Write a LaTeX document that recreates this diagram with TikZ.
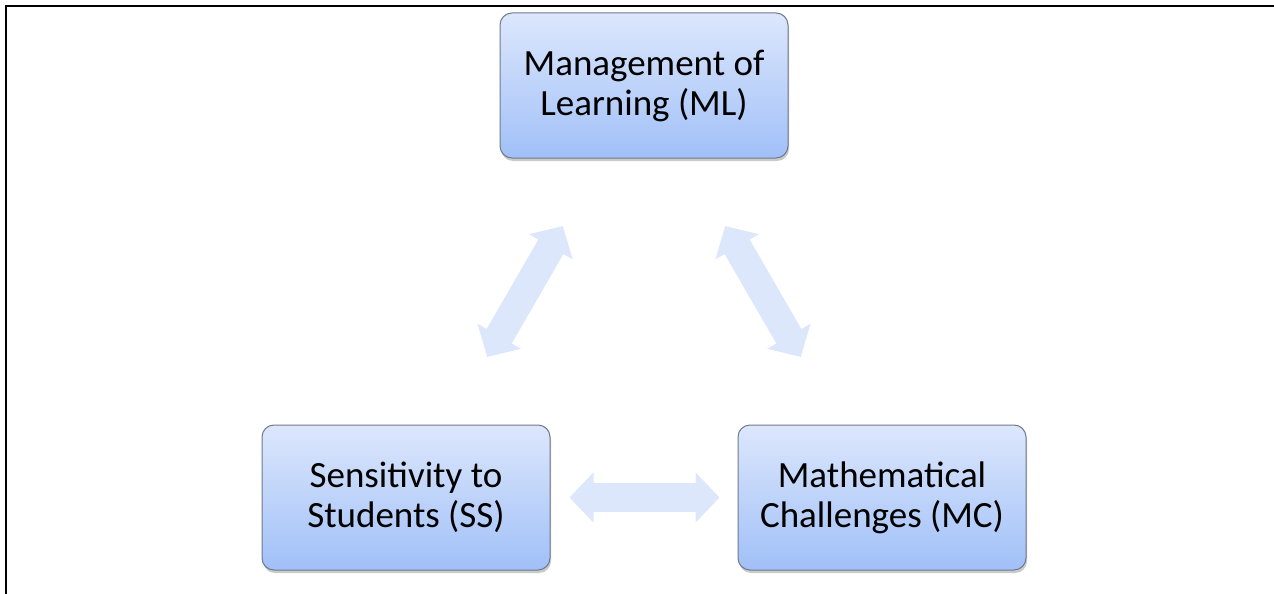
\documentclass[tikz,border=0pt]{standalone}
\usepackage{fontspec}
\setmainfont{Carlito}
\usepackage{xcolor}
\usetikzlibrary{arrows, arrows.meta}
\usetikzlibrary{calc}
\usetikzlibrary{shadows}

\definecolor{boxtop}{HTML}{DCE7FC}
\definecolor{boxbottom}{HTML}{A1C0F8}
\definecolor{boxline}{HTML}{6F7A8C}
\definecolor{arrowfill}{HTML}{DDE7FB}

\begin{document}
\begin{tikzpicture}[x=1pt, y=-1pt,
    dimbox/.style={rectangle, rounded corners=12pt, draw=boxline, line width=1pt,
      top color=boxtop, bottom color=boxbottom, minimum width=288pt, minimum height=145pt,
      align=center, font=\fontsize{37}{40}\selectfont,
      drop shadow={shadow xshift=1pt, shadow yshift=-3pt, opacity=0.35, fill=black!60}},
    linkarrow/.style={line width=29pt, draw=arrowfill,
      {Triangle[width=49pt, length=24pt]}-{Triangle[width=49pt, length=24pt]}}]
      \useasboundingbox (0,0) rectangle (1274,594);
      % frame
      \draw[line width=2.5pt] (6,594) -- (6,6) -- (1274,6);

      \node[dimbox] (ml) at (644,85.5) {Management of\\Learning (ML)};
      \node[dimbox] (ss) at (406,497.5) {Sensitivity to\\Students (SS)};
      \node[dimbox] (mc) at (882,497.5) {Mathematical\\Challenges (MC)};

      \draw[linkarrow, shorten <=78pt, shorten >=78pt] (ml) -- (ss);
      \draw[linkarrow, shorten <=78pt, shorten >=78pt] (ml) -- (mc);
      \draw[linkarrow, shorten <=19pt, shorten >=18pt] (ss) -- (mc);
    \end{tikzpicture}
\end{document}
